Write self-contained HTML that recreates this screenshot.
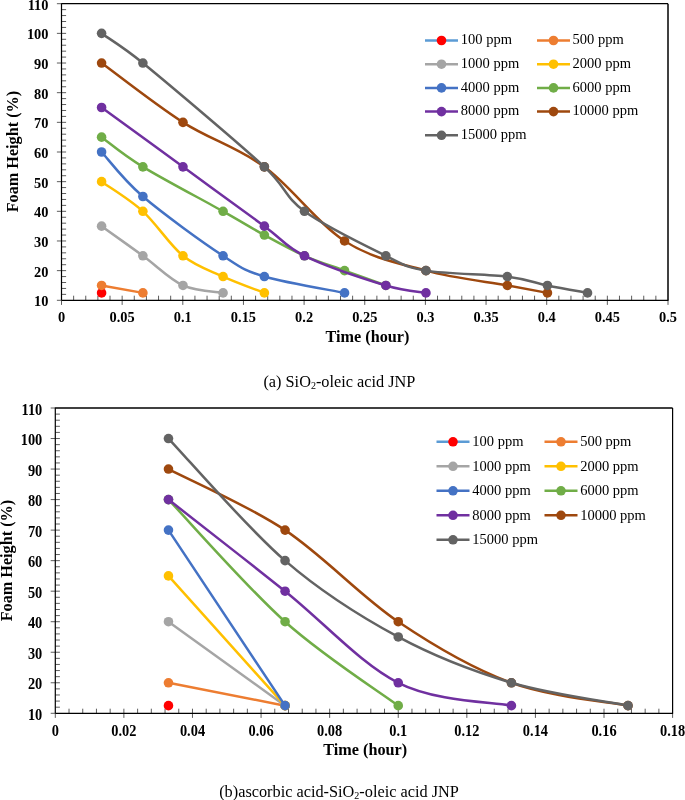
<!DOCTYPE html>
<html><head><meta charset="utf-8"><style>
html,body{margin:0;padding:0;background:#fff;}
body{width:685px;height:800px;overflow:hidden;position:relative;}
svg{position:absolute;left:0;top:0;}
svg{will-change:transform;}
.tl{font-family:"Liberation Serif",serif;font-weight:bold;font-size:15px;fill:#000;}
.at{font-family:"Liberation Serif",serif;font-weight:bold;font-size:16.2px;fill:#000;}
.lg{font-family:"Liberation Serif",serif;font-size:14.5px;fill:#000;}
.cap{font-family:"Liberation Serif",serif;font-size:16.3px;fill:#000;}
</style></head><body>
<svg width="685" height="800" viewBox="0 0 685 800">
<line x1="61.5" y1="3.7" x2="668" y2="3.7" stroke="#000" stroke-width="1.2"/>
<line x1="668" y1="3.7" x2="668" y2="300.3" stroke="#000" stroke-width="1.5"/>
<line x1="56.9" y1="300.30" x2="61.5" y2="300.30" stroke="#333" stroke-width="0.8"/>
<line x1="61.5" y1="294.37" x2="66.1" y2="294.37" stroke="#333" stroke-width="0.8"/>
<line x1="61.5" y1="288.44" x2="66.1" y2="288.44" stroke="#333" stroke-width="0.8"/>
<line x1="61.5" y1="282.50" x2="66.1" y2="282.50" stroke="#333" stroke-width="0.8"/>
<line x1="61.5" y1="276.57" x2="66.1" y2="276.57" stroke="#333" stroke-width="0.8"/>
<line x1="56.9" y1="270.64" x2="61.5" y2="270.64" stroke="#333" stroke-width="0.8"/>
<line x1="61.5" y1="270.64" x2="66.1" y2="270.64" stroke="#333" stroke-width="0.8"/>
<line x1="61.5" y1="264.71" x2="66.1" y2="264.71" stroke="#333" stroke-width="0.8"/>
<line x1="61.5" y1="258.78" x2="66.1" y2="258.78" stroke="#333" stroke-width="0.8"/>
<line x1="61.5" y1="252.84" x2="66.1" y2="252.84" stroke="#333" stroke-width="0.8"/>
<line x1="61.5" y1="246.91" x2="66.1" y2="246.91" stroke="#333" stroke-width="0.8"/>
<line x1="56.9" y1="240.98" x2="61.5" y2="240.98" stroke="#333" stroke-width="0.8"/>
<line x1="61.5" y1="240.98" x2="66.1" y2="240.98" stroke="#333" stroke-width="0.8"/>
<line x1="61.5" y1="235.05" x2="66.1" y2="235.05" stroke="#333" stroke-width="0.8"/>
<line x1="61.5" y1="229.12" x2="66.1" y2="229.12" stroke="#333" stroke-width="0.8"/>
<line x1="61.5" y1="223.18" x2="66.1" y2="223.18" stroke="#333" stroke-width="0.8"/>
<line x1="61.5" y1="217.25" x2="66.1" y2="217.25" stroke="#333" stroke-width="0.8"/>
<line x1="56.9" y1="211.32" x2="61.5" y2="211.32" stroke="#333" stroke-width="0.8"/>
<line x1="61.5" y1="211.32" x2="66.1" y2="211.32" stroke="#333" stroke-width="0.8"/>
<line x1="61.5" y1="205.39" x2="66.1" y2="205.39" stroke="#333" stroke-width="0.8"/>
<line x1="61.5" y1="199.46" x2="66.1" y2="199.46" stroke="#333" stroke-width="0.8"/>
<line x1="61.5" y1="193.52" x2="66.1" y2="193.52" stroke="#333" stroke-width="0.8"/>
<line x1="61.5" y1="187.59" x2="66.1" y2="187.59" stroke="#333" stroke-width="0.8"/>
<line x1="56.9" y1="181.66" x2="61.5" y2="181.66" stroke="#333" stroke-width="0.8"/>
<line x1="61.5" y1="181.66" x2="66.1" y2="181.66" stroke="#333" stroke-width="0.8"/>
<line x1="61.5" y1="175.73" x2="66.1" y2="175.73" stroke="#333" stroke-width="0.8"/>
<line x1="61.5" y1="169.80" x2="66.1" y2="169.80" stroke="#333" stroke-width="0.8"/>
<line x1="61.5" y1="163.86" x2="66.1" y2="163.86" stroke="#333" stroke-width="0.8"/>
<line x1="61.5" y1="157.93" x2="66.1" y2="157.93" stroke="#333" stroke-width="0.8"/>
<line x1="56.9" y1="152.00" x2="61.5" y2="152.00" stroke="#333" stroke-width="0.8"/>
<line x1="61.5" y1="152.00" x2="66.1" y2="152.00" stroke="#333" stroke-width="0.8"/>
<line x1="61.5" y1="146.07" x2="66.1" y2="146.07" stroke="#333" stroke-width="0.8"/>
<line x1="61.5" y1="140.14" x2="66.1" y2="140.14" stroke="#333" stroke-width="0.8"/>
<line x1="61.5" y1="134.20" x2="66.1" y2="134.20" stroke="#333" stroke-width="0.8"/>
<line x1="61.5" y1="128.27" x2="66.1" y2="128.27" stroke="#333" stroke-width="0.8"/>
<line x1="56.9" y1="122.34" x2="61.5" y2="122.34" stroke="#333" stroke-width="0.8"/>
<line x1="61.5" y1="122.34" x2="66.1" y2="122.34" stroke="#333" stroke-width="0.8"/>
<line x1="61.5" y1="116.41" x2="66.1" y2="116.41" stroke="#333" stroke-width="0.8"/>
<line x1="61.5" y1="110.48" x2="66.1" y2="110.48" stroke="#333" stroke-width="0.8"/>
<line x1="61.5" y1="104.54" x2="66.1" y2="104.54" stroke="#333" stroke-width="0.8"/>
<line x1="61.5" y1="98.61" x2="66.1" y2="98.61" stroke="#333" stroke-width="0.8"/>
<line x1="56.9" y1="92.68" x2="61.5" y2="92.68" stroke="#333" stroke-width="0.8"/>
<line x1="61.5" y1="92.68" x2="66.1" y2="92.68" stroke="#333" stroke-width="0.8"/>
<line x1="61.5" y1="86.75" x2="66.1" y2="86.75" stroke="#333" stroke-width="0.8"/>
<line x1="61.5" y1="80.82" x2="66.1" y2="80.82" stroke="#333" stroke-width="0.8"/>
<line x1="61.5" y1="74.88" x2="66.1" y2="74.88" stroke="#333" stroke-width="0.8"/>
<line x1="61.5" y1="68.95" x2="66.1" y2="68.95" stroke="#333" stroke-width="0.8"/>
<line x1="56.9" y1="63.02" x2="61.5" y2="63.02" stroke="#333" stroke-width="0.8"/>
<line x1="61.5" y1="63.02" x2="66.1" y2="63.02" stroke="#333" stroke-width="0.8"/>
<line x1="61.5" y1="57.09" x2="66.1" y2="57.09" stroke="#333" stroke-width="0.8"/>
<line x1="61.5" y1="51.16" x2="66.1" y2="51.16" stroke="#333" stroke-width="0.8"/>
<line x1="61.5" y1="45.22" x2="66.1" y2="45.22" stroke="#333" stroke-width="0.8"/>
<line x1="61.5" y1="39.29" x2="66.1" y2="39.29" stroke="#333" stroke-width="0.8"/>
<line x1="56.9" y1="33.36" x2="61.5" y2="33.36" stroke="#333" stroke-width="0.8"/>
<line x1="61.5" y1="33.36" x2="66.1" y2="33.36" stroke="#333" stroke-width="0.8"/>
<line x1="61.5" y1="27.43" x2="66.1" y2="27.43" stroke="#333" stroke-width="0.8"/>
<line x1="61.5" y1="21.50" x2="66.1" y2="21.50" stroke="#333" stroke-width="0.8"/>
<line x1="61.5" y1="15.56" x2="66.1" y2="15.56" stroke="#333" stroke-width="0.8"/>
<line x1="61.5" y1="9.63" x2="66.1" y2="9.63" stroke="#333" stroke-width="0.8"/>
<line x1="56.9" y1="3.70" x2="61.5" y2="3.70" stroke="#333" stroke-width="0.8"/>
<line x1="61.50" y1="300.3" x2="61.50" y2="304.90000000000003" stroke="#333" stroke-width="0.8"/>
<line x1="73.63" y1="295.7" x2="73.63" y2="300.3" stroke="#333" stroke-width="0.8"/>
<line x1="85.76" y1="295.7" x2="85.76" y2="300.3" stroke="#333" stroke-width="0.8"/>
<line x1="97.89" y1="295.7" x2="97.89" y2="300.3" stroke="#333" stroke-width="0.8"/>
<line x1="110.02" y1="295.7" x2="110.02" y2="300.3" stroke="#333" stroke-width="0.8"/>
<line x1="122.15" y1="300.3" x2="122.15" y2="304.90000000000003" stroke="#333" stroke-width="0.8"/>
<line x1="122.15" y1="295.7" x2="122.15" y2="300.3" stroke="#333" stroke-width="0.8"/>
<line x1="134.28" y1="295.7" x2="134.28" y2="300.3" stroke="#333" stroke-width="0.8"/>
<line x1="146.41" y1="295.7" x2="146.41" y2="300.3" stroke="#333" stroke-width="0.8"/>
<line x1="158.54" y1="295.7" x2="158.54" y2="300.3" stroke="#333" stroke-width="0.8"/>
<line x1="170.67" y1="295.7" x2="170.67" y2="300.3" stroke="#333" stroke-width="0.8"/>
<line x1="182.80" y1="300.3" x2="182.80" y2="304.90000000000003" stroke="#333" stroke-width="0.8"/>
<line x1="182.80" y1="295.7" x2="182.80" y2="300.3" stroke="#333" stroke-width="0.8"/>
<line x1="194.93" y1="295.7" x2="194.93" y2="300.3" stroke="#333" stroke-width="0.8"/>
<line x1="207.06" y1="295.7" x2="207.06" y2="300.3" stroke="#333" stroke-width="0.8"/>
<line x1="219.19" y1="295.7" x2="219.19" y2="300.3" stroke="#333" stroke-width="0.8"/>
<line x1="231.32" y1="295.7" x2="231.32" y2="300.3" stroke="#333" stroke-width="0.8"/>
<line x1="243.45" y1="300.3" x2="243.45" y2="304.90000000000003" stroke="#333" stroke-width="0.8"/>
<line x1="243.45" y1="295.7" x2="243.45" y2="300.3" stroke="#333" stroke-width="0.8"/>
<line x1="255.58" y1="295.7" x2="255.58" y2="300.3" stroke="#333" stroke-width="0.8"/>
<line x1="267.71" y1="295.7" x2="267.71" y2="300.3" stroke="#333" stroke-width="0.8"/>
<line x1="279.84" y1="295.7" x2="279.84" y2="300.3" stroke="#333" stroke-width="0.8"/>
<line x1="291.97" y1="295.7" x2="291.97" y2="300.3" stroke="#333" stroke-width="0.8"/>
<line x1="304.10" y1="300.3" x2="304.10" y2="304.90000000000003" stroke="#333" stroke-width="0.8"/>
<line x1="304.10" y1="295.7" x2="304.10" y2="300.3" stroke="#333" stroke-width="0.8"/>
<line x1="316.23" y1="295.7" x2="316.23" y2="300.3" stroke="#333" stroke-width="0.8"/>
<line x1="328.36" y1="295.7" x2="328.36" y2="300.3" stroke="#333" stroke-width="0.8"/>
<line x1="340.49" y1="295.7" x2="340.49" y2="300.3" stroke="#333" stroke-width="0.8"/>
<line x1="352.62" y1="295.7" x2="352.62" y2="300.3" stroke="#333" stroke-width="0.8"/>
<line x1="364.75" y1="300.3" x2="364.75" y2="304.90000000000003" stroke="#333" stroke-width="0.8"/>
<line x1="364.75" y1="295.7" x2="364.75" y2="300.3" stroke="#333" stroke-width="0.8"/>
<line x1="376.88" y1="295.7" x2="376.88" y2="300.3" stroke="#333" stroke-width="0.8"/>
<line x1="389.01" y1="295.7" x2="389.01" y2="300.3" stroke="#333" stroke-width="0.8"/>
<line x1="401.14" y1="295.7" x2="401.14" y2="300.3" stroke="#333" stroke-width="0.8"/>
<line x1="413.27" y1="295.7" x2="413.27" y2="300.3" stroke="#333" stroke-width="0.8"/>
<line x1="425.40" y1="300.3" x2="425.40" y2="304.90000000000003" stroke="#333" stroke-width="0.8"/>
<line x1="425.40" y1="295.7" x2="425.40" y2="300.3" stroke="#333" stroke-width="0.8"/>
<line x1="437.53" y1="295.7" x2="437.53" y2="300.3" stroke="#333" stroke-width="0.8"/>
<line x1="449.66" y1="295.7" x2="449.66" y2="300.3" stroke="#333" stroke-width="0.8"/>
<line x1="461.79" y1="295.7" x2="461.79" y2="300.3" stroke="#333" stroke-width="0.8"/>
<line x1="473.92" y1="295.7" x2="473.92" y2="300.3" stroke="#333" stroke-width="0.8"/>
<line x1="486.05" y1="300.3" x2="486.05" y2="304.90000000000003" stroke="#333" stroke-width="0.8"/>
<line x1="486.05" y1="295.7" x2="486.05" y2="300.3" stroke="#333" stroke-width="0.8"/>
<line x1="498.18" y1="295.7" x2="498.18" y2="300.3" stroke="#333" stroke-width="0.8"/>
<line x1="510.31" y1="295.7" x2="510.31" y2="300.3" stroke="#333" stroke-width="0.8"/>
<line x1="522.44" y1="295.7" x2="522.44" y2="300.3" stroke="#333" stroke-width="0.8"/>
<line x1="534.57" y1="295.7" x2="534.57" y2="300.3" stroke="#333" stroke-width="0.8"/>
<line x1="546.70" y1="300.3" x2="546.70" y2="304.90000000000003" stroke="#333" stroke-width="0.8"/>
<line x1="546.70" y1="295.7" x2="546.70" y2="300.3" stroke="#333" stroke-width="0.8"/>
<line x1="558.83" y1="295.7" x2="558.83" y2="300.3" stroke="#333" stroke-width="0.8"/>
<line x1="570.96" y1="295.7" x2="570.96" y2="300.3" stroke="#333" stroke-width="0.8"/>
<line x1="583.09" y1="295.7" x2="583.09" y2="300.3" stroke="#333" stroke-width="0.8"/>
<line x1="595.22" y1="295.7" x2="595.22" y2="300.3" stroke="#333" stroke-width="0.8"/>
<line x1="607.35" y1="300.3" x2="607.35" y2="304.90000000000003" stroke="#333" stroke-width="0.8"/>
<line x1="607.35" y1="295.7" x2="607.35" y2="300.3" stroke="#333" stroke-width="0.8"/>
<line x1="619.48" y1="295.7" x2="619.48" y2="300.3" stroke="#333" stroke-width="0.8"/>
<line x1="631.61" y1="295.7" x2="631.61" y2="300.3" stroke="#333" stroke-width="0.8"/>
<line x1="643.74" y1="295.7" x2="643.74" y2="300.3" stroke="#333" stroke-width="0.8"/>
<line x1="655.87" y1="295.7" x2="655.87" y2="300.3" stroke="#333" stroke-width="0.8"/>
<line x1="668.00" y1="300.3" x2="668.00" y2="304.90000000000003" stroke="#333" stroke-width="0.8"/>
<line x1="61.5" y1="3.2" x2="61.5" y2="300.3" stroke="#000" stroke-width="1.2"/>
<line x1="61.5" y1="300.3" x2="668.5" y2="300.3" stroke="#000" stroke-width="1.2"/>
<text transform="translate(48.5,306.30) scale(0.96,1.04)" text-anchor="end" class="tl">10</text>
<text transform="translate(48.5,276.64) scale(0.96,1.04)" text-anchor="end" class="tl">20</text>
<text transform="translate(48.5,246.98) scale(0.96,1.04)" text-anchor="end" class="tl">30</text>
<text transform="translate(48.5,217.32) scale(0.96,1.04)" text-anchor="end" class="tl">40</text>
<text transform="translate(48.5,187.66) scale(0.96,1.04)" text-anchor="end" class="tl">50</text>
<text transform="translate(48.5,158.00) scale(0.96,1.04)" text-anchor="end" class="tl">60</text>
<text transform="translate(48.5,128.34) scale(0.96,1.04)" text-anchor="end" class="tl">70</text>
<text transform="translate(48.5,98.68) scale(0.96,1.04)" text-anchor="end" class="tl">80</text>
<text transform="translate(48.5,69.02) scale(0.96,1.04)" text-anchor="end" class="tl">90</text>
<text transform="translate(48.5,39.36) scale(0.96,1.04)" text-anchor="end" class="tl">100</text>
<text transform="translate(48.5,9.70) scale(0.96,1.04)" text-anchor="end" class="tl">110</text>
<text transform="translate(61.50,322.2) scale(0.96,1.04)" text-anchor="middle" class="tl">0</text>
<text transform="translate(122.15,322.2) scale(0.96,1.04)" text-anchor="middle" class="tl">0.05</text>
<text transform="translate(182.80,322.2) scale(0.96,1.04)" text-anchor="middle" class="tl">0.1</text>
<text transform="translate(243.45,322.2) scale(0.96,1.04)" text-anchor="middle" class="tl">0.15</text>
<text transform="translate(304.10,322.2) scale(0.96,1.04)" text-anchor="middle" class="tl">0.2</text>
<text transform="translate(364.75,322.2) scale(0.96,1.04)" text-anchor="middle" class="tl">0.25</text>
<text transform="translate(425.40,322.2) scale(0.96,1.04)" text-anchor="middle" class="tl">0.3</text>
<text transform="translate(486.05,322.2) scale(0.96,1.04)" text-anchor="middle" class="tl">0.35</text>
<text transform="translate(546.70,322.2) scale(0.96,1.04)" text-anchor="middle" class="tl">0.4</text>
<text transform="translate(607.35,322.2) scale(0.96,1.04)" text-anchor="middle" class="tl">0.45</text>
<text transform="translate(668.00,322.2) scale(0.96,1.04)" text-anchor="middle" class="tl">0.5</text>
<text x="367.5" y="341.5" text-anchor="middle" class="at">Time (hour)</text>
<text transform="translate(17.8,151.6) rotate(-90)" text-anchor="middle" class="at">Foam Height (%)</text>
<circle cx="101.59" cy="292.88" r="4.8" fill="#FF0000"/>
<path d="M101.59,285.47 L142.89,292.88" fill="none" stroke="#ED7D31" stroke-width="2.5" stroke-linejoin="round" stroke-linecap="round"/>
<circle cx="101.59" cy="285.47" r="4.8" fill="#ED7D31"/>
<circle cx="142.89" cy="292.88" r="4.8" fill="#ED7D31"/>
<path d="M101.59,226.15 C108.47,231.09 129.32,245.92 142.89,255.81 C156.46,265.70 169.62,279.29 182.98,285.47 C196.35,291.65 216.39,291.65 223.07,292.88" fill="none" stroke="#A5A5A5" stroke-width="2.5" stroke-linejoin="round" stroke-linecap="round"/>
<circle cx="101.59" cy="226.15" r="4.8" fill="#A5A5A5"/>
<circle cx="142.89" cy="255.81" r="4.8" fill="#A5A5A5"/>
<circle cx="182.98" cy="285.47" r="4.8" fill="#A5A5A5"/>
<circle cx="223.07" cy="292.88" r="4.8" fill="#A5A5A5"/>
<path d="M101.59,181.66 C108.47,186.60 129.32,198.96 142.89,211.32 C156.46,223.68 169.62,244.93 182.98,255.81 C196.35,266.69 209.50,270.39 223.07,276.57 C236.64,282.75 257.49,290.17 264.37,292.88" fill="none" stroke="#FFC000" stroke-width="2.5" stroke-linejoin="round" stroke-linecap="round"/>
<circle cx="101.59" cy="181.66" r="4.8" fill="#FFC000"/>
<circle cx="142.89" cy="211.32" r="4.8" fill="#FFC000"/>
<circle cx="182.98" cy="255.81" r="4.8" fill="#FFC000"/>
<circle cx="223.07" cy="276.57" r="4.8" fill="#FFC000"/>
<circle cx="264.37" cy="292.88" r="4.8" fill="#FFC000"/>
<path d="M101.59,152.00 C108.47,159.42 122.64,179.18 142.89,196.49 C163.14,213.80 202.82,242.46 223.07,255.81 C242.37,268.53 244.12,270.39 264.37,276.57 C284.63,282.75 331.19,290.17 344.55,292.88" fill="none" stroke="#4472C4" stroke-width="2.5" stroke-linejoin="round" stroke-linecap="round"/>
<circle cx="101.59" cy="152.00" r="4.8" fill="#4472C4"/>
<circle cx="142.89" cy="196.49" r="4.8" fill="#4472C4"/>
<circle cx="223.07" cy="255.81" r="4.8" fill="#4472C4"/>
<circle cx="264.37" cy="276.57" r="4.8" fill="#4472C4"/>
<circle cx="344.55" cy="292.88" r="4.8" fill="#4472C4"/>
<path d="M101.59,137.17 C108.47,142.11 122.64,154.47 142.89,166.83 C163.14,179.19 202.82,199.95 223.07,211.32 C243.32,222.69 250.81,227.63 264.37,235.05 C277.94,242.46 291.10,249.88 304.46,255.81 C317.83,261.74 330.98,265.70 344.55,270.64 C358.12,275.58 378.97,283.00 385.86,285.47" fill="none" stroke="#70AD47" stroke-width="2.5" stroke-linejoin="round" stroke-linecap="round"/>
<circle cx="101.59" cy="137.17" r="4.8" fill="#70AD47"/>
<circle cx="142.89" cy="166.83" r="4.8" fill="#70AD47"/>
<circle cx="223.07" cy="211.32" r="4.8" fill="#70AD47"/>
<circle cx="264.37" cy="235.05" r="4.8" fill="#70AD47"/>
<circle cx="304.46" cy="255.81" r="4.8" fill="#70AD47"/>
<circle cx="344.55" cy="270.64" r="4.8" fill="#70AD47"/>
<circle cx="385.86" cy="285.47" r="4.8" fill="#70AD47"/>
<path d="M101.59,107.51 C115.16,117.40 155.85,147.05 182.98,166.83 C210.12,186.61 244.12,211.32 264.37,226.15 C284.49,240.88 284.21,245.92 304.46,255.81 C324.71,265.70 365.61,279.29 385.86,285.47 C405.35,291.42 419.26,291.65 425.95,292.88" fill="none" stroke="#7030A0" stroke-width="2.5" stroke-linejoin="round" stroke-linecap="round"/>
<circle cx="101.59" cy="107.51" r="4.8" fill="#7030A0"/>
<circle cx="182.98" cy="166.83" r="4.8" fill="#7030A0"/>
<circle cx="264.37" cy="226.15" r="4.8" fill="#7030A0"/>
<circle cx="304.46" cy="255.81" r="4.8" fill="#7030A0"/>
<circle cx="385.86" cy="285.47" r="4.8" fill="#7030A0"/>
<circle cx="425.95" cy="292.88" r="4.8" fill="#7030A0"/>
<path d="M101.59,63.02 C115.16,72.91 155.85,105.03 182.98,122.34 C210.12,139.65 237.44,147.05 264.37,166.83 C291.31,186.61 317.62,223.67 344.55,240.98 C371.49,258.29 398.81,263.22 425.95,270.64 C453.08,278.06 487.09,281.76 507.34,285.47 C527.39,289.14 540.74,291.65 547.43,292.88" fill="none" stroke="#9E480E" stroke-width="2.5" stroke-linejoin="round" stroke-linecap="round"/>
<circle cx="101.59" cy="63.02" r="4.8" fill="#9E480E"/>
<circle cx="182.98" cy="122.34" r="4.8" fill="#9E480E"/>
<circle cx="264.37" cy="166.83" r="4.8" fill="#9E480E"/>
<circle cx="344.55" cy="240.98" r="4.8" fill="#9E480E"/>
<circle cx="425.95" cy="270.64" r="4.8" fill="#9E480E"/>
<circle cx="507.34" cy="285.47" r="4.8" fill="#9E480E"/>
<circle cx="547.43" cy="292.88" r="4.8" fill="#9E480E"/>
<path d="M101.59,33.36 C108.47,38.30 123.23,46.90 142.89,63.02 C170.03,85.27 237.44,142.11 264.37,166.83 C286.43,187.08 284.21,196.49 304.46,211.32 C324.71,226.15 365.61,245.92 385.86,255.81 C405.06,265.19 405.69,267.18 425.95,270.64 C446.20,274.10 487.09,274.10 507.34,276.57 C527.59,279.04 534.06,282.75 547.43,285.47 C560.79,288.19 580.83,291.65 587.52,292.88" fill="none" stroke="#636363" stroke-width="2.5" stroke-linejoin="round" stroke-linecap="round"/>
<circle cx="101.59" cy="33.36" r="4.8" fill="#636363"/>
<circle cx="142.89" cy="63.02" r="4.8" fill="#636363"/>
<circle cx="264.37" cy="166.83" r="4.8" fill="#636363"/>
<circle cx="304.46" cy="211.32" r="4.8" fill="#636363"/>
<circle cx="385.86" cy="255.81" r="4.8" fill="#636363"/>
<circle cx="425.95" cy="270.64" r="4.8" fill="#636363"/>
<circle cx="507.34" cy="276.57" r="4.8" fill="#636363"/>
<circle cx="547.43" cy="285.47" r="4.8" fill="#636363"/>
<circle cx="587.52" cy="292.88" r="4.8" fill="#636363"/>
<line x1="425.0" y1="40.50" x2="458.0" y2="40.50" stroke="#5B9BD5" stroke-width="2.5"/>
<circle cx="441.5" cy="40.50" r="4.8" fill="#FF0000"/>
<text x="460.8" y="44.10" class="lg">100 ppm</text>
<line x1="537.0" y1="40.50" x2="570.0" y2="40.50" stroke="#ED7D31" stroke-width="2.5"/>
<circle cx="553.5" cy="40.50" r="4.8" fill="#ED7D31"/>
<text x="572.5" y="44.10" class="lg">500 ppm</text>
<line x1="425.0" y1="64.20" x2="458.0" y2="64.20" stroke="#A5A5A5" stroke-width="2.5"/>
<circle cx="441.5" cy="64.20" r="4.8" fill="#A5A5A5"/>
<text x="460.8" y="67.80" class="lg">1000 ppm</text>
<line x1="537.0" y1="64.20" x2="570.0" y2="64.20" stroke="#FFC000" stroke-width="2.5"/>
<circle cx="553.5" cy="64.20" r="4.8" fill="#FFC000"/>
<text x="572.5" y="67.80" class="lg">2000 ppm</text>
<line x1="425.0" y1="87.90" x2="458.0" y2="87.90" stroke="#4472C4" stroke-width="2.5"/>
<circle cx="441.5" cy="87.90" r="4.8" fill="#4472C4"/>
<text x="460.8" y="91.50" class="lg">4000 ppm</text>
<line x1="537.0" y1="87.90" x2="570.0" y2="87.90" stroke="#70AD47" stroke-width="2.5"/>
<circle cx="553.5" cy="87.90" r="4.8" fill="#70AD47"/>
<text x="572.5" y="91.50" class="lg">6000 ppm</text>
<line x1="425.0" y1="111.60" x2="458.0" y2="111.60" stroke="#7030A0" stroke-width="2.5"/>
<circle cx="441.5" cy="111.60" r="4.8" fill="#7030A0"/>
<text x="460.8" y="115.20" class="lg">8000 ppm</text>
<line x1="537.0" y1="111.60" x2="570.0" y2="111.60" stroke="#9E480E" stroke-width="2.5"/>
<circle cx="553.5" cy="111.60" r="4.8" fill="#9E480E"/>
<text x="572.5" y="115.20" class="lg">10000 ppm</text>
<line x1="425.0" y1="135.30" x2="458.0" y2="135.30" stroke="#636363" stroke-width="2.5"/>
<circle cx="441.5" cy="135.30" r="4.8" fill="#636363"/>
<text x="460.8" y="138.90" class="lg">15000 ppm</text>
<line x1="55.3" y1="408" x2="672.6" y2="408" stroke="#000" stroke-width="1.5"/>
<line x1="672.6" y1="408" x2="672.6" y2="713.3" stroke="#000" stroke-width="1.2"/>
<line x1="50.699999999999996" y1="713.30" x2="55.3" y2="713.30" stroke="#333" stroke-width="0.8"/>
<line x1="55.3" y1="707.19" x2="59.9" y2="707.19" stroke="#333" stroke-width="0.8"/>
<line x1="55.3" y1="701.09" x2="59.9" y2="701.09" stroke="#333" stroke-width="0.8"/>
<line x1="55.3" y1="694.98" x2="59.9" y2="694.98" stroke="#333" stroke-width="0.8"/>
<line x1="55.3" y1="688.88" x2="59.9" y2="688.88" stroke="#333" stroke-width="0.8"/>
<line x1="50.699999999999996" y1="682.77" x2="55.3" y2="682.77" stroke="#333" stroke-width="0.8"/>
<line x1="55.3" y1="682.77" x2="59.9" y2="682.77" stroke="#333" stroke-width="0.8"/>
<line x1="55.3" y1="676.66" x2="59.9" y2="676.66" stroke="#333" stroke-width="0.8"/>
<line x1="55.3" y1="670.56" x2="59.9" y2="670.56" stroke="#333" stroke-width="0.8"/>
<line x1="55.3" y1="664.45" x2="59.9" y2="664.45" stroke="#333" stroke-width="0.8"/>
<line x1="55.3" y1="658.35" x2="59.9" y2="658.35" stroke="#333" stroke-width="0.8"/>
<line x1="50.699999999999996" y1="652.24" x2="55.3" y2="652.24" stroke="#333" stroke-width="0.8"/>
<line x1="55.3" y1="652.24" x2="59.9" y2="652.24" stroke="#333" stroke-width="0.8"/>
<line x1="55.3" y1="646.13" x2="59.9" y2="646.13" stroke="#333" stroke-width="0.8"/>
<line x1="55.3" y1="640.03" x2="59.9" y2="640.03" stroke="#333" stroke-width="0.8"/>
<line x1="55.3" y1="633.92" x2="59.9" y2="633.92" stroke="#333" stroke-width="0.8"/>
<line x1="55.3" y1="627.82" x2="59.9" y2="627.82" stroke="#333" stroke-width="0.8"/>
<line x1="50.699999999999996" y1="621.71" x2="55.3" y2="621.71" stroke="#333" stroke-width="0.8"/>
<line x1="55.3" y1="621.71" x2="59.9" y2="621.71" stroke="#333" stroke-width="0.8"/>
<line x1="55.3" y1="615.60" x2="59.9" y2="615.60" stroke="#333" stroke-width="0.8"/>
<line x1="55.3" y1="609.50" x2="59.9" y2="609.50" stroke="#333" stroke-width="0.8"/>
<line x1="55.3" y1="603.39" x2="59.9" y2="603.39" stroke="#333" stroke-width="0.8"/>
<line x1="55.3" y1="597.29" x2="59.9" y2="597.29" stroke="#333" stroke-width="0.8"/>
<line x1="50.699999999999996" y1="591.18" x2="55.3" y2="591.18" stroke="#333" stroke-width="0.8"/>
<line x1="55.3" y1="591.18" x2="59.9" y2="591.18" stroke="#333" stroke-width="0.8"/>
<line x1="55.3" y1="585.07" x2="59.9" y2="585.07" stroke="#333" stroke-width="0.8"/>
<line x1="55.3" y1="578.97" x2="59.9" y2="578.97" stroke="#333" stroke-width="0.8"/>
<line x1="55.3" y1="572.86" x2="59.9" y2="572.86" stroke="#333" stroke-width="0.8"/>
<line x1="55.3" y1="566.76" x2="59.9" y2="566.76" stroke="#333" stroke-width="0.8"/>
<line x1="50.699999999999996" y1="560.65" x2="55.3" y2="560.65" stroke="#333" stroke-width="0.8"/>
<line x1="55.3" y1="560.65" x2="59.9" y2="560.65" stroke="#333" stroke-width="0.8"/>
<line x1="55.3" y1="554.54" x2="59.9" y2="554.54" stroke="#333" stroke-width="0.8"/>
<line x1="55.3" y1="548.44" x2="59.9" y2="548.44" stroke="#333" stroke-width="0.8"/>
<line x1="55.3" y1="542.33" x2="59.9" y2="542.33" stroke="#333" stroke-width="0.8"/>
<line x1="55.3" y1="536.23" x2="59.9" y2="536.23" stroke="#333" stroke-width="0.8"/>
<line x1="50.699999999999996" y1="530.12" x2="55.3" y2="530.12" stroke="#333" stroke-width="0.8"/>
<line x1="55.3" y1="530.12" x2="59.9" y2="530.12" stroke="#333" stroke-width="0.8"/>
<line x1="55.3" y1="524.01" x2="59.9" y2="524.01" stroke="#333" stroke-width="0.8"/>
<line x1="55.3" y1="517.91" x2="59.9" y2="517.91" stroke="#333" stroke-width="0.8"/>
<line x1="55.3" y1="511.80" x2="59.9" y2="511.80" stroke="#333" stroke-width="0.8"/>
<line x1="55.3" y1="505.70" x2="59.9" y2="505.70" stroke="#333" stroke-width="0.8"/>
<line x1="50.699999999999996" y1="499.59" x2="55.3" y2="499.59" stroke="#333" stroke-width="0.8"/>
<line x1="55.3" y1="499.59" x2="59.9" y2="499.59" stroke="#333" stroke-width="0.8"/>
<line x1="55.3" y1="493.48" x2="59.9" y2="493.48" stroke="#333" stroke-width="0.8"/>
<line x1="55.3" y1="487.38" x2="59.9" y2="487.38" stroke="#333" stroke-width="0.8"/>
<line x1="55.3" y1="481.27" x2="59.9" y2="481.27" stroke="#333" stroke-width="0.8"/>
<line x1="55.3" y1="475.17" x2="59.9" y2="475.17" stroke="#333" stroke-width="0.8"/>
<line x1="50.699999999999996" y1="469.06" x2="55.3" y2="469.06" stroke="#333" stroke-width="0.8"/>
<line x1="55.3" y1="469.06" x2="59.9" y2="469.06" stroke="#333" stroke-width="0.8"/>
<line x1="55.3" y1="462.95" x2="59.9" y2="462.95" stroke="#333" stroke-width="0.8"/>
<line x1="55.3" y1="456.85" x2="59.9" y2="456.85" stroke="#333" stroke-width="0.8"/>
<line x1="55.3" y1="450.74" x2="59.9" y2="450.74" stroke="#333" stroke-width="0.8"/>
<line x1="55.3" y1="444.64" x2="59.9" y2="444.64" stroke="#333" stroke-width="0.8"/>
<line x1="50.699999999999996" y1="438.53" x2="55.3" y2="438.53" stroke="#333" stroke-width="0.8"/>
<line x1="55.3" y1="438.53" x2="59.9" y2="438.53" stroke="#333" stroke-width="0.8"/>
<line x1="55.3" y1="432.42" x2="59.9" y2="432.42" stroke="#333" stroke-width="0.8"/>
<line x1="55.3" y1="426.32" x2="59.9" y2="426.32" stroke="#333" stroke-width="0.8"/>
<line x1="55.3" y1="420.21" x2="59.9" y2="420.21" stroke="#333" stroke-width="0.8"/>
<line x1="55.3" y1="414.11" x2="59.9" y2="414.11" stroke="#333" stroke-width="0.8"/>
<line x1="50.699999999999996" y1="408.00" x2="55.3" y2="408.00" stroke="#333" stroke-width="0.8"/>
<line x1="55.30" y1="713.3" x2="55.30" y2="717.9" stroke="#333" stroke-width="0.8"/>
<line x1="69.02" y1="708.6999999999999" x2="69.02" y2="713.3" stroke="#333" stroke-width="0.8"/>
<line x1="82.74" y1="708.6999999999999" x2="82.74" y2="713.3" stroke="#333" stroke-width="0.8"/>
<line x1="96.45" y1="708.6999999999999" x2="96.45" y2="713.3" stroke="#333" stroke-width="0.8"/>
<line x1="110.17" y1="708.6999999999999" x2="110.17" y2="713.3" stroke="#333" stroke-width="0.8"/>
<line x1="123.89" y1="713.3" x2="123.89" y2="717.9" stroke="#333" stroke-width="0.8"/>
<line x1="123.89" y1="708.6999999999999" x2="123.89" y2="713.3" stroke="#333" stroke-width="0.8"/>
<line x1="137.61" y1="708.6999999999999" x2="137.61" y2="713.3" stroke="#333" stroke-width="0.8"/>
<line x1="151.32" y1="708.6999999999999" x2="151.32" y2="713.3" stroke="#333" stroke-width="0.8"/>
<line x1="165.04" y1="708.6999999999999" x2="165.04" y2="713.3" stroke="#333" stroke-width="0.8"/>
<line x1="178.76" y1="708.6999999999999" x2="178.76" y2="713.3" stroke="#333" stroke-width="0.8"/>
<line x1="192.48" y1="713.3" x2="192.48" y2="717.9" stroke="#333" stroke-width="0.8"/>
<line x1="192.48" y1="708.6999999999999" x2="192.48" y2="713.3" stroke="#333" stroke-width="0.8"/>
<line x1="206.20" y1="708.6999999999999" x2="206.20" y2="713.3" stroke="#333" stroke-width="0.8"/>
<line x1="219.91" y1="708.6999999999999" x2="219.91" y2="713.3" stroke="#333" stroke-width="0.8"/>
<line x1="233.63" y1="708.6999999999999" x2="233.63" y2="713.3" stroke="#333" stroke-width="0.8"/>
<line x1="247.35" y1="708.6999999999999" x2="247.35" y2="713.3" stroke="#333" stroke-width="0.8"/>
<line x1="261.07" y1="713.3" x2="261.07" y2="717.9" stroke="#333" stroke-width="0.8"/>
<line x1="261.07" y1="708.6999999999999" x2="261.07" y2="713.3" stroke="#333" stroke-width="0.8"/>
<line x1="274.78" y1="708.6999999999999" x2="274.78" y2="713.3" stroke="#333" stroke-width="0.8"/>
<line x1="288.50" y1="708.6999999999999" x2="288.50" y2="713.3" stroke="#333" stroke-width="0.8"/>
<line x1="302.22" y1="708.6999999999999" x2="302.22" y2="713.3" stroke="#333" stroke-width="0.8"/>
<line x1="315.94" y1="708.6999999999999" x2="315.94" y2="713.3" stroke="#333" stroke-width="0.8"/>
<line x1="329.66" y1="713.3" x2="329.66" y2="717.9" stroke="#333" stroke-width="0.8"/>
<line x1="329.66" y1="708.6999999999999" x2="329.66" y2="713.3" stroke="#333" stroke-width="0.8"/>
<line x1="343.37" y1="708.6999999999999" x2="343.37" y2="713.3" stroke="#333" stroke-width="0.8"/>
<line x1="357.09" y1="708.6999999999999" x2="357.09" y2="713.3" stroke="#333" stroke-width="0.8"/>
<line x1="370.81" y1="708.6999999999999" x2="370.81" y2="713.3" stroke="#333" stroke-width="0.8"/>
<line x1="384.53" y1="708.6999999999999" x2="384.53" y2="713.3" stroke="#333" stroke-width="0.8"/>
<line x1="398.24" y1="713.3" x2="398.24" y2="717.9" stroke="#333" stroke-width="0.8"/>
<line x1="398.24" y1="708.6999999999999" x2="398.24" y2="713.3" stroke="#333" stroke-width="0.8"/>
<line x1="411.96" y1="708.6999999999999" x2="411.96" y2="713.3" stroke="#333" stroke-width="0.8"/>
<line x1="425.68" y1="708.6999999999999" x2="425.68" y2="713.3" stroke="#333" stroke-width="0.8"/>
<line x1="439.40" y1="708.6999999999999" x2="439.40" y2="713.3" stroke="#333" stroke-width="0.8"/>
<line x1="453.12" y1="708.6999999999999" x2="453.12" y2="713.3" stroke="#333" stroke-width="0.8"/>
<line x1="466.83" y1="713.3" x2="466.83" y2="717.9" stroke="#333" stroke-width="0.8"/>
<line x1="466.83" y1="708.6999999999999" x2="466.83" y2="713.3" stroke="#333" stroke-width="0.8"/>
<line x1="480.55" y1="708.6999999999999" x2="480.55" y2="713.3" stroke="#333" stroke-width="0.8"/>
<line x1="494.27" y1="708.6999999999999" x2="494.27" y2="713.3" stroke="#333" stroke-width="0.8"/>
<line x1="507.99" y1="708.6999999999999" x2="507.99" y2="713.3" stroke="#333" stroke-width="0.8"/>
<line x1="521.70" y1="708.6999999999999" x2="521.70" y2="713.3" stroke="#333" stroke-width="0.8"/>
<line x1="535.42" y1="713.3" x2="535.42" y2="717.9" stroke="#333" stroke-width="0.8"/>
<line x1="535.42" y1="708.6999999999999" x2="535.42" y2="713.3" stroke="#333" stroke-width="0.8"/>
<line x1="549.14" y1="708.6999999999999" x2="549.14" y2="713.3" stroke="#333" stroke-width="0.8"/>
<line x1="562.86" y1="708.6999999999999" x2="562.86" y2="713.3" stroke="#333" stroke-width="0.8"/>
<line x1="576.58" y1="708.6999999999999" x2="576.58" y2="713.3" stroke="#333" stroke-width="0.8"/>
<line x1="590.29" y1="708.6999999999999" x2="590.29" y2="713.3" stroke="#333" stroke-width="0.8"/>
<line x1="604.01" y1="713.3" x2="604.01" y2="717.9" stroke="#333" stroke-width="0.8"/>
<line x1="604.01" y1="708.6999999999999" x2="604.01" y2="713.3" stroke="#333" stroke-width="0.8"/>
<line x1="617.73" y1="708.6999999999999" x2="617.73" y2="713.3" stroke="#333" stroke-width="0.8"/>
<line x1="631.45" y1="708.6999999999999" x2="631.45" y2="713.3" stroke="#333" stroke-width="0.8"/>
<line x1="645.16" y1="708.6999999999999" x2="645.16" y2="713.3" stroke="#333" stroke-width="0.8"/>
<line x1="658.88" y1="708.6999999999999" x2="658.88" y2="713.3" stroke="#333" stroke-width="0.8"/>
<line x1="672.60" y1="713.3" x2="672.60" y2="717.9" stroke="#333" stroke-width="0.8"/>
<line x1="55.3" y1="407.5" x2="55.3" y2="713.3" stroke="#000" stroke-width="1.2"/>
<line x1="55.3" y1="713.3" x2="673.1" y2="713.3" stroke="#000" stroke-width="1.2"/>
<text transform="translate(42.3,719.80) scale(0.96,1.1)" text-anchor="end" class="tl">10</text>
<text transform="translate(42.3,689.27) scale(0.96,1.1)" text-anchor="end" class="tl">20</text>
<text transform="translate(42.3,658.74) scale(0.96,1.1)" text-anchor="end" class="tl">30</text>
<text transform="translate(42.3,628.21) scale(0.96,1.1)" text-anchor="end" class="tl">40</text>
<text transform="translate(42.3,597.68) scale(0.96,1.1)" text-anchor="end" class="tl">50</text>
<text transform="translate(42.3,567.15) scale(0.96,1.1)" text-anchor="end" class="tl">60</text>
<text transform="translate(42.3,536.62) scale(0.96,1.1)" text-anchor="end" class="tl">70</text>
<text transform="translate(42.3,506.09) scale(0.96,1.1)" text-anchor="end" class="tl">80</text>
<text transform="translate(42.3,475.56) scale(0.96,1.1)" text-anchor="end" class="tl">90</text>
<text transform="translate(42.3,445.03) scale(0.96,1.1)" text-anchor="end" class="tl">100</text>
<text transform="translate(42.3,414.50) scale(0.96,1.1)" text-anchor="end" class="tl">110</text>
<text transform="translate(55.30,736.0999999999999) scale(0.96,1.1)" text-anchor="middle" class="tl">0</text>
<text transform="translate(123.89,736.0999999999999) scale(0.96,1.1)" text-anchor="middle" class="tl">0.02</text>
<text transform="translate(192.48,736.0999999999999) scale(0.96,1.1)" text-anchor="middle" class="tl">0.04</text>
<text transform="translate(261.07,736.0999999999999) scale(0.96,1.1)" text-anchor="middle" class="tl">0.06</text>
<text transform="translate(329.66,736.0999999999999) scale(0.96,1.1)" text-anchor="middle" class="tl">0.08</text>
<text transform="translate(398.24,736.0999999999999) scale(0.96,1.1)" text-anchor="middle" class="tl">0.1</text>
<text transform="translate(466.83,736.0999999999999) scale(0.96,1.1)" text-anchor="middle" class="tl">0.12</text>
<text transform="translate(535.42,736.0999999999999) scale(0.96,1.1)" text-anchor="middle" class="tl">0.14</text>
<text transform="translate(604.01,736.0999999999999) scale(0.96,1.1)" text-anchor="middle" class="tl">0.16</text>
<text transform="translate(672.60,736.0999999999999) scale(0.96,1.1)" text-anchor="middle" class="tl">0.18</text>
<text x="365.2" y="755" text-anchor="middle" class="at">Time (hour)</text>
<text transform="translate(11.7,560.6) rotate(-90)" text-anchor="middle" class="at">Foam Height (%)</text>
<circle cx="168.47" cy="705.67" r="4.8" fill="#FF0000"/>
<path d="M168.47,682.77 L285.07,705.67" fill="none" stroke="#ED7D31" stroke-width="2.5" stroke-linejoin="round" stroke-linecap="round"/>
<circle cx="168.47" cy="682.77" r="4.8" fill="#ED7D31"/>
<circle cx="285.07" cy="705.67" r="4.8" fill="#ED7D31"/>
<path d="M168.47,621.71 L285.07,705.67" fill="none" stroke="#A5A5A5" stroke-width="2.5" stroke-linejoin="round" stroke-linecap="round"/>
<circle cx="168.47" cy="621.71" r="4.8" fill="#A5A5A5"/>
<circle cx="285.07" cy="705.67" r="4.8" fill="#A5A5A5"/>
<path d="M168.47,575.91 L285.07,705.67" fill="none" stroke="#FFC000" stroke-width="2.5" stroke-linejoin="round" stroke-linecap="round"/>
<circle cx="168.47" cy="575.91" r="4.8" fill="#FFC000"/>
<circle cx="285.07" cy="705.67" r="4.8" fill="#FFC000"/>
<path d="M168.47,530.12 L285.07,705.67" fill="none" stroke="#4472C4" stroke-width="2.5" stroke-linejoin="round" stroke-linecap="round"/>
<circle cx="168.47" cy="530.12" r="4.8" fill="#4472C4"/>
<circle cx="285.07" cy="705.67" r="4.8" fill="#4472C4"/>
<path d="M168.47,499.59 C187.91,519.95 246.77,587.36 285.07,621.71 C323.38,656.06 379.38,691.67 398.24,705.67" fill="none" stroke="#70AD47" stroke-width="2.5" stroke-linejoin="round" stroke-linecap="round"/>
<circle cx="168.47" cy="499.59" r="4.8" fill="#70AD47"/>
<circle cx="285.07" cy="621.71" r="4.8" fill="#70AD47"/>
<circle cx="398.24" cy="705.67" r="4.8" fill="#70AD47"/>
<path d="M168.47,499.59 C187.91,514.86 246.77,560.64 285.07,591.18 C323.38,621.72 360.51,663.68 398.24,682.77 C435.98,701.86 492.55,701.85 511.42,705.67" fill="none" stroke="#7030A0" stroke-width="2.5" stroke-linejoin="round" stroke-linecap="round"/>
<circle cx="168.47" cy="499.59" r="4.8" fill="#7030A0"/>
<circle cx="285.07" cy="591.18" r="4.8" fill="#7030A0"/>
<circle cx="398.24" cy="682.77" r="4.8" fill="#7030A0"/>
<circle cx="511.42" cy="705.67" r="4.8" fill="#7030A0"/>
<path d="M168.47,469.06 C187.91,479.24 246.77,504.67 285.07,530.12 C323.38,555.57 360.51,596.26 398.24,621.71 C435.98,647.16 473.11,668.77 511.42,682.77 C549.72,696.77 608.58,701.85 628.02,705.67" fill="none" stroke="#9E480E" stroke-width="2.5" stroke-linejoin="round" stroke-linecap="round"/>
<circle cx="168.47" cy="469.06" r="4.8" fill="#9E480E"/>
<circle cx="285.07" cy="530.12" r="4.8" fill="#9E480E"/>
<circle cx="398.24" cy="621.71" r="4.8" fill="#9E480E"/>
<circle cx="511.42" cy="682.77" r="4.8" fill="#9E480E"/>
<circle cx="628.02" cy="705.67" r="4.8" fill="#9E480E"/>
<path d="M168.47,438.53 C187.91,458.89 246.77,527.57 285.07,560.65 C323.38,593.73 360.51,616.62 398.24,636.97 C435.98,657.33 473.11,671.32 511.42,682.77 C549.72,694.22 608.58,701.85 628.02,705.67" fill="none" stroke="#636363" stroke-width="2.5" stroke-linejoin="round" stroke-linecap="round"/>
<circle cx="168.47" cy="438.53" r="4.8" fill="#636363"/>
<circle cx="285.07" cy="560.65" r="4.8" fill="#636363"/>
<circle cx="398.24" cy="636.97" r="4.8" fill="#636363"/>
<circle cx="511.42" cy="682.77" r="4.8" fill="#636363"/>
<circle cx="628.02" cy="705.67" r="4.8" fill="#636363"/>
<line x1="436.5" y1="441.80" x2="469.5" y2="441.80" stroke="#5B9BD5" stroke-width="2.5"/>
<circle cx="453" cy="441.80" r="4.8" fill="#FF0000"/>
<text x="472.3" y="446.20" class="lg">100 ppm</text>
<line x1="544.5" y1="441.80" x2="577.5" y2="441.80" stroke="#ED7D31" stroke-width="2.5"/>
<circle cx="561" cy="441.80" r="4.8" fill="#ED7D31"/>
<text x="580.2" y="446.20" class="lg">500 ppm</text>
<line x1="436.5" y1="466.30" x2="469.5" y2="466.30" stroke="#A5A5A5" stroke-width="2.5"/>
<circle cx="453" cy="466.30" r="4.8" fill="#A5A5A5"/>
<text x="472.3" y="470.70" class="lg">1000 ppm</text>
<line x1="544.5" y1="466.30" x2="577.5" y2="466.30" stroke="#FFC000" stroke-width="2.5"/>
<circle cx="561" cy="466.30" r="4.8" fill="#FFC000"/>
<text x="580.2" y="470.70" class="lg">2000 ppm</text>
<line x1="436.5" y1="490.80" x2="469.5" y2="490.80" stroke="#4472C4" stroke-width="2.5"/>
<circle cx="453" cy="490.80" r="4.8" fill="#4472C4"/>
<text x="472.3" y="495.20" class="lg">4000 ppm</text>
<line x1="544.5" y1="490.80" x2="577.5" y2="490.80" stroke="#70AD47" stroke-width="2.5"/>
<circle cx="561" cy="490.80" r="4.8" fill="#70AD47"/>
<text x="580.2" y="495.20" class="lg">6000 ppm</text>
<line x1="436.5" y1="515.30" x2="469.5" y2="515.30" stroke="#7030A0" stroke-width="2.5"/>
<circle cx="453" cy="515.30" r="4.8" fill="#7030A0"/>
<text x="472.3" y="519.70" class="lg">8000 ppm</text>
<line x1="544.5" y1="515.30" x2="577.5" y2="515.30" stroke="#9E480E" stroke-width="2.5"/>
<circle cx="561" cy="515.30" r="4.8" fill="#9E480E"/>
<text x="580.2" y="519.70" class="lg">10000 ppm</text>
<line x1="436.5" y1="539.80" x2="469.5" y2="539.80" stroke="#636363" stroke-width="2.5"/>
<circle cx="453" cy="539.80" r="4.8" fill="#636363"/>
<text x="472.3" y="544.20" class="lg">15000 ppm</text>
<text x="339.4" y="386.5" text-anchor="middle" class="cap">(a) SiO<tspan font-size="10" dy="2.6">2</tspan><tspan dy="-2.6">-oleic acid JNP</tspan></text>
<text x="339" y="796.8" text-anchor="middle" class="cap">(b)ascorbic acid-SiO<tspan font-size="10" dy="2.6">2</tspan><tspan dy="-2.6">-oleic acid JNP</tspan></text>
</svg>
</body></html>
